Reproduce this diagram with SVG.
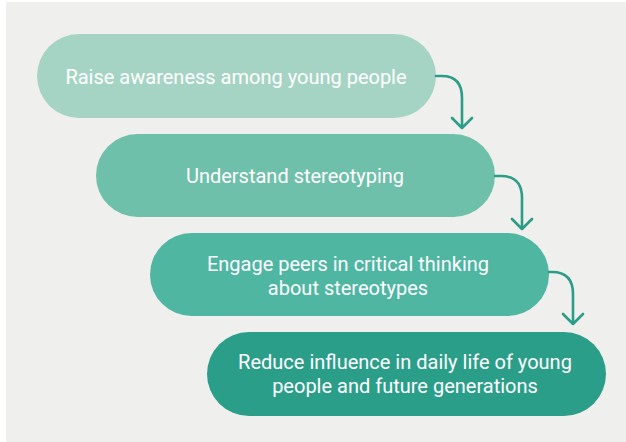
<svg xmlns="http://www.w3.org/2000/svg" width="626" height="442" viewBox="0 0 626 442">
<style>
.t{font-family:Roboto,"Liberation Sans",sans-serif;font-size:20px;fill:#ffffff;text-anchor:middle}
.c{fill:none;stroke:#2a9d88;stroke-width:2.6;stroke-linecap:round;stroke-linejoin:round}
</style>
<rect x="0" y="0" width="626" height="442" fill="#ffffff"/>
<rect x="6" y="2" width="620" height="440" fill="#efefed"/>
<g id="n1"><rect x="37" y="34" width="399" height="84" rx="42" fill="#a6d4c4"/><text class="t" x="236" y="84">Raise awareness among young people</text></g>
<g id="n2"><rect x="96" y="134" width="399" height="83" rx="41.5" fill="#6fc0aa"/><text class="t" x="295" y="183">Understand stereotyping</text></g>
<g id="n3"><rect x="150" y="233" width="399" height="83" rx="41.5" fill="#4fb6a2"/><text class="t" x="348" y="271">Engage peers in critical thinking</text><text class="t" x="348" y="295">about stereotypes</text></g>
<g id="n4"><rect x="207" y="332" width="399" height="84" rx="42" fill="#2b9e89"/><text class="t" x="405" y="369">Reduce influence in daily life of young</text><text class="t" x="405" y="393">people and future generations</text></g>
<g id="connectors">
<path class="c" d="M436 76 H442 Q462 76 462 98 V128 M452 118 L462 128 L472 118"/>
<path class="c" d="M495 176 H501 Q522 176 522 198 V229 M512 219 L522 229 L532 219"/>
<path class="c" d="M549 272 H552 Q573 272 573 294 V324 M563 314 L573 324 L583 314"/>
</g>
</svg>
